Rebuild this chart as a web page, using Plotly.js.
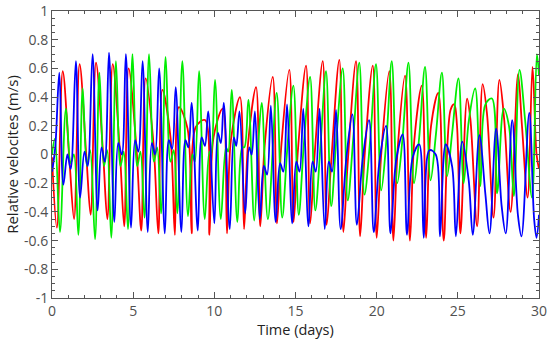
<!DOCTYPE html>
<html><head><meta charset="utf-8">
<script src="https://cdn.plot.ly/plotly-3.0.1.min.js"></script>
<style>html,body{margin:0;padding:0;background:#fff}#chart{width:554px;height:340px}</style>
</head><body><div id="chart"></div>
<script>
const blueDay=[0.00,0.20,0.45,0.70,0.95,1.15,1.47,1.73,2.00,2.20,2.50,2.81,3.05,3.25,3.51,3.84,4.08,4.30,4.55,4.87,5.12,5.32,5.58,5.90,6.15,6.35,6.60,6.95,7.20,7.40,7.62,7.97,8.22,8.40,8.60,8.98,9.22,9.42,9.62,10.00,10.22,10.40,10.58,10.95,11.20,11.35,11.55,11.90,12.15,12.30,12.50,12.80,13.05,13.25,13.48,13.78,14.05,14.25,14.48,14.80,15.05,15.25,15.48,15.80,16.05,16.25,16.48,16.80,17.05,17.25,17.50,17.78,18.12,18.50,18.78,19.13,19.53,19.82,20.17,20.58,20.85,21.20,21.60,21.87,22.22,22.62,22.90,23.25,23.64,23.90,24.25,24.65,24.88,25.27,25.67,25.92,26.33,26.70,26.95,27.36,27.70,27.95,28.35,28.70,28.92,29.40,29.70,29.85,30.00];
const blueVel=[-0.12,0.05,0.57,-0.21,0.00,-0.10,0.65,-0.30,0.02,-0.08,0.70,-0.39,0.05,-0.05,0.71,-0.47,0.08,0.00,0.70,-0.51,0.10,0.02,0.65,-0.54,0.08,0.00,0.60,-0.55,0.10,0.04,0.47,-0.54,0.10,0.05,0.36,-0.53,0.12,0.06,0.30,-0.48,0.15,0.08,0.36,-0.52,0.12,0.06,0.30,-0.41,0.05,0.00,0.30,-0.45,-0.08,-0.14,0.34,-0.47,-0.06,-0.12,0.35,-0.48,-0.05,-0.12,0.32,-0.50,-0.05,-0.12,0.32,-0.52,-0.05,-0.12,0.31,-0.52,-0.04,0.28,-0.49,-0.04,0.24,-0.54,-0.05,0.20,-0.55,-0.04,0.14,-0.56,-0.02,0.07,-0.58,0.03,0.00,-0.57,0.07,-0.085,-0.57,0.09,-0.18,-0.56,0.135,-0.28,-0.55,0.18,-0.36,-0.55,0.24,-0.42,-0.57,0.29,-0.45,-0.58,-0.42];
const redDay=[0.00,0.30,0.66,1.08,1.36,1.70,2.12,2.38,2.71,3.15,3.41,3.74,4.18,4.45,4.72,5.20,5.50,5.77,6.25,6.55,6.80,7.30,7.57,7.82,8.35,8.60,8.85,9.43,9.70,9.95,10.52,10.78,11.02,11.58,11.83,12.08,12.57,12.83,13.10,13.60,13.86,14.12,14.62,14.88,15.15,15.65,15.90,16.18,16.68,16.92,17.20,17.70,17.95,18.22,18.73,18.98,19.25,19.76,20.00,20.28,20.78,21.03,21.30,21.75,22.05,22.32,22.78,23.05,23.35,23.80,24.13,24.55,24.78,24.95,25.16,25.57,25.77,26.19,26.53,26.80,27.20,27.56,27.85,28.25,28.71,28.95,29.30,29.60,29.85,30.00];
const redVel=[-0.02,-0.51,0.58,-0.05,-0.45,0.63,-0.02,-0.42,0.64,0.00,-0.45,0.63,0.02,-0.50,0.60,0.05,-0.53,0.53,0.08,-0.55,0.45,0.12,-0.56,0.33,0.18,-0.55,0.19,0.24,-0.56,0.12,0.32,-0.55,0.10,0.40,-0.52,0.08,0.47,-0.50,0.06,0.54,-0.48,0.05,0.59,-0.47,0.03,0.62,-0.48,0.00,0.65,-0.49,-0.05,0.66,-0.54,-0.05,0.65,-0.57,-0.02,0.62,-0.58,0.00,0.58,-0.60,0.05,0.55,-0.60,0.10,0.48,-0.58,0.20,0.43,-0.60,0.31,0.35,0.20,-0.55,0.39,0.25,-0.50,0.49,0.28,-0.44,0.52,0.25,-0.40,0.56,0.20,-0.30,0.61,0.00,-0.10];
const greenDay=[0.00,0.18,0.49,0.86,1.15,1.35,1.62,1.89,2.15,2.35,2.65,2.92,3.20,3.40,3.65,3.94,4.22,4.42,4.68,4.96,5.25,5.45,5.70,5.98,6.28,6.48,6.72,7.00,7.30,7.50,7.72,8.03,8.38,8.65,8.80,9.06,9.41,9.70,9.80,10.04,10.40,10.72,10.85,11.07,11.42,11.72,11.85,12.10,12.46,12.72,12.92,13.30,13.84,14.18,14.50,14.87,15.20,15.50,15.90,16.22,16.55,16.88,17.20,17.50,17.91,18.22,18.55,18.93,19.25,19.60,19.96,20.28,20.60,20.93,21.27,21.60,21.96,22.30,22.62,22.98,23.32,23.65,24.02,24.34,24.65,25.04,25.36,25.67,26.07,26.39,26.70,27.10,27.42,27.83,28.15,28.45,28.80,29.16,29.57,29.87,30.00];
const greenVel=[0.00,0.11,-0.54,0.32,-0.06,0.00,-0.56,0.46,-0.08,0.03,-0.59,0.57,-0.08,0.03,-0.58,0.65,-0.08,0.02,-0.52,0.70,-0.08,0.02,-0.44,0.70,-0.05,0.05,-0.41,0.68,-0.05,0.03,-0.41,0.65,-0.43,0.00,-0.05,0.58,-0.45,0.02,0.00,0.52,-0.45,0.05,0.02,0.45,-0.47,0.05,0.05,0.38,-0.46,0.10,0.36,-0.45,0.43,-0.44,0.05,0.48,-0.42,0.05,0.54,-0.39,0.08,0.58,-0.36,0.08,0.60,-0.32,0.10,0.64,-0.28,0.10,0.63,-0.25,0.10,0.65,-0.20,0.12,0.64,-0.20,0.12,0.61,-0.18,0.14,0.57,-0.15,0.15,0.53,-0.20,0.23,0.46,-0.22,0.35,0.39,-0.27,0.32,0.20,-0.29,0.59,0.22,-0.30,0.70,0.55];
const xTickVals=[0,5,10,15,20,25,30];
const yTickVals=[-1,-0.8,-0.6,-0.4,-0.2,0,0.2,0.4,0.6,0.8,1];
const yTickText=['-1','-0.8','-0.6','-0.4','-0.2','0','0.2','0.4','0.6','0.8','1'];

const mk=(x,y,c)=>({x:x,y:y,type:'scatter',mode:'lines',line:{color:c,width:1.8,shape:'spline',smoothing:1},hoverinfo:'skip',showlegend:false});
const data=[mk(redDay,redVel,'#ff0000'),mk(greenDay,greenVel,'#00ee00'),mk(blueDay,blueVel,'#0000ff')];
const fam='Open Sans, sans-serif';
const axisCommon={showline:true,linecolor:'#555',linewidth:1,mirror:'ticks',ticks:'inside',ticklen:6,tickcolor:'#555',showgrid:false,zeroline:false,tickfont:{family:fam,size:14,color:'#505050'}};
const layout={width:554,height:340,margin:{l:52,r:15,t:11,b:42},paper_bgcolor:'#fff',plot_bgcolor:'#fff',
 xaxis:Object.assign({},axisCommon,{range:[0,30],tickvals:xTickVals,ticktext:xTickVals.map(String),minor:{ticks:'inside',dtick:1,tick0:0,ticklen:3,tickcolor:'#555'},title:{text:'Time (days)',font:{family:fam,size:14.5,color:'#222'},standoff:3}}),
 yaxis:Object.assign({},axisCommon,{range:[-1,1],tickvals:yTickVals,ticktext:yTickText,minor:{ticks:'inside',dtick:0.05,tick0:0,ticklen:3,tickcolor:'#555'},title:{text:'Relative velocites (m/s)',font:{family:fam,size:15,color:'#222'},standoff:1}})};
Plotly.newPlot('chart',data,layout,{staticPlot:true,displayModeBar:false});
</script></body></html>
